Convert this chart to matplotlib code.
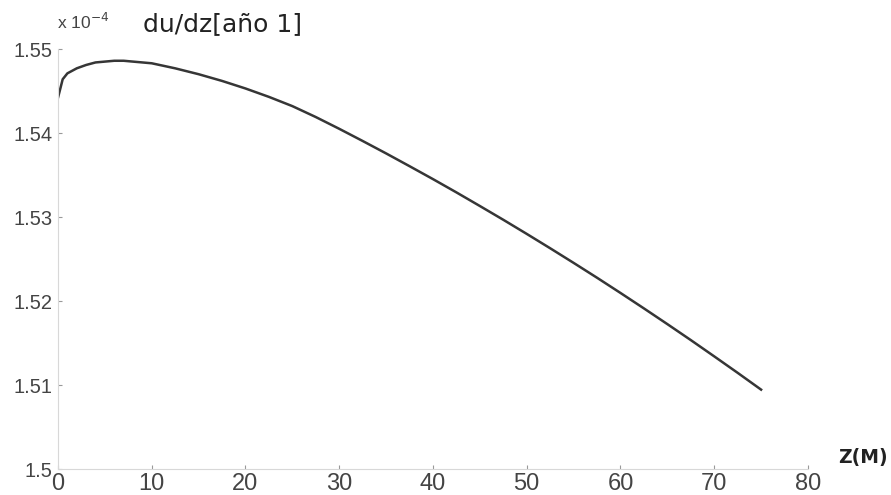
import matplotlib.pyplot as plt

# profundidad (m) y gradiente du/dz (en unidades de 1e-4)
z = [0, 0.5, 1, 2, 3, 4, 5, 6, 7, 8, 10, 12.5, 15, 17.5, 20, 22.5, 25,
     27.5, 30, 32.5, 35, 37.5, 40, 42.5, 45, 47.5, 50, 52.5, 55, 57.5,
     60, 62.5, 65, 67.5, 70, 72.5, 75]
dudz = [1.5442, 1.5464, 1.5471, 1.5477, 1.5481, 1.5484, 1.5485, 1.5486,
        1.5486, 1.5485, 1.5483, 1.5477, 1.5470, 1.5462, 1.5453, 1.5443,
        1.5432, 1.5419, 1.5405, 1.53905, 1.53757, 1.53605, 1.53451,
        1.53293, 1.53131, 1.52967, 1.52799, 1.52628, 1.52454, 1.52277,
        1.52096, 1.51912, 1.51725, 1.51535, 1.51341, 1.51145, 1.50945]

xticks = [0, 10, 20, 30, 40, 50, 60, 70, 80]
yticks = [1.50, 1.51, 1.52, 1.53, 1.54, 1.55]
ylabels = ['1.5', '1.51', '1.52', '1.53', '1.54', '1.55']

fig = plt.figure(figsize=(8.91, 4.95), dpi=100)
ax = fig.add_axes([0.0651, 0.0525, 0.8417, 0.8485])

ax.plot(z, dudz, color='#363636', lw=1.8)

ax.set_xlim(0, 80)
ax.set_ylim(1.50, 1.55)
ax.set_xticks(xticks)
ax.set_yticks(yticks)
ax.set_xticklabels([str(t) for t in xticks])
ax.set_yticklabels(ylabels)

for s in ['top', 'right']:
    ax.spines[s].set_visible(False)
for s in ['left', 'bottom']:
    ax.spines[s].set_color('#d8d8d8')
    ax.spines[s].set_linewidth(0.8)

ax.tick_params(direction='in', length=3, width=0.8, color='#999999',
               labelcolor='#444444')
ax.tick_params(axis='x', labelsize=17, pad=3)
ax.tick_params(axis='y', labelsize=14.5, pad=4)
for lab in ax.get_xticklabels() + ax.get_yticklabels():
    lab.set_family('Liberation Sans')

fig.text(0.064, 0.955, r'x 10$^{-4}$', fontsize=12.5, color='#444444',
         family='Liberation Sans', va='center')
fig.text(0.160, 0.952, 'du/dz[año 1]', fontsize=18, color='#222222',
         family='DejaVu Sans', va='center')
fig.text(0.941, 0.075, 'Z(M)', fontsize=13.5, fontweight='bold',
         color='#222222', family='DejaVu Sans', va='center')

fig.savefig('out.png', dpi=100)
